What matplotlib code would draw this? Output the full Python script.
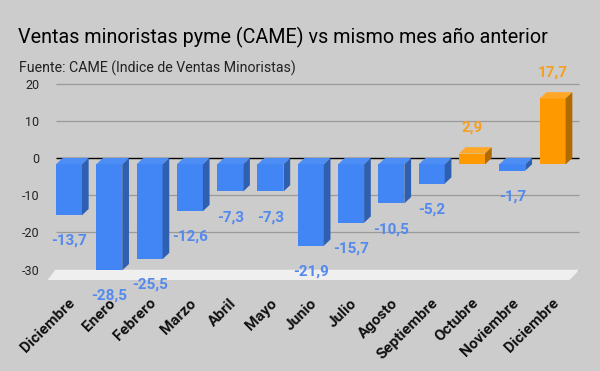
import matplotlib
matplotlib.use("Agg")
import matplotlib.pyplot as plt
from matplotlib.patches import Polygon

# data
months = ["Diciembre", "Enero", "Febrero", "Marzo", "Abril", "Mayo", "Junio",
          "Julio", "Agosto", "Septiembre", "Octubre", "Noviembre", "Diciembre"]
values = [-13.7, -28.5, -25.5, -12.6, -7.3, -7.3, -21.9,
          -15.7, -10.5, -5.2, 2.9, -1.7, 17.7]
yticks = [-30, -20, -10, 0, 10, 20]

BG = "#cccccc"
BLUE = ("#4285f4", "#4d8ef6", "#2f5fb0")      # front, top, side
ORANGE = ("#ff9900", "#ffa726", "#b06a00")
BLUE_LBL = "#5489ee"
ORANGE_LBL = "#f5a020"

plt.rcParams["font.family"] = ["Roboto", "DejaVu Sans"]

fig = plt.figure(figsize=(6, 3.71), dpi=100, facecolor=BG)
ax = fig.add_axes([46.8 / 600, 1 - 325.4 / 371, 540.1 / 600, 279.0 / 371])
ax.set_facecolor(BG)
ax.set_xlim(-0.55, 12.85)
ax.set_ylim(-45, 30)
for s in ax.spines.values():
    s.set_visible(False)

dx, dy = 0.166, 1.7   # depth offset of the 3d look (category units, value units)
w = 0.645

# back wall grid + floor
ax.hlines([t for t in yticks if t != 0], -0.5 + dx, 12.5 + dx,
          color="#9a9a9a", lw=0.9, zorder=1)
ax.hlines(0, -0.5 + dx, 12.5 + dx, color="black", lw=1.0, zorder=1)
floor = Polygon([(-0.5 + dx, -30), (12.5 + dx, -30), (12.5 - 0.08, -32.8), (-0.5 - 0.03, -32.8)],
                closed=True, facecolor="#efefef", edgecolor="none", zorder=2)
ax.add_patch(floor)

for i, v in enumerate(values):
    front, top, side = ORANGE if v > 0 else BLUE
    x0, x1 = i - w / 2, i + w / 2
    lo, hi = min(v, 0) - dy, max(v, 0) - dy
    ax.add_patch(Polygon([(x0, lo), (x1, lo), (x1, hi), (x0, hi)],
                         facecolor=front, edgecolor="none", zorder=3))
    ax.add_patch(Polygon([(x0, hi), (x1, hi), (x1 + dx, hi + dy), (x0 + dx, hi + dy)],
                         facecolor=top, edgecolor="none", zorder=3))
    ax.add_patch(Polygon([(x1, lo), (x1 + dx, lo + dy), (x1 + dx, hi + dy), (x1, hi)],
                         facecolor=side, edgecolor="none", zorder=3))
    txt = f"{v:.1f}".replace(".", ",")
    if v > 0:
        ax.annotate(txt, (i, hi), xytext=(0, 18.5), textcoords="offset points",
                    ha="center", va="center", color=ORANGE_LBL, fontsize=11,
                    fontweight="bold", zorder=5)
    else:
        ax.annotate(txt, (i, lo), xytext=(0, -18.5), textcoords="offset points",
                    ha="center", va="center", color=BLUE_LBL, fontsize=11,
                    fontweight="bold", zorder=5)

ax.set_yticks(yticks)
ax.set_yticklabels([str(t) for t in yticks])
ax.tick_params(axis="y", length=0, pad=5.5, labelsize=9, labelcolor="#222222")
ax.set_xticks([])

for i, m in enumerate(months):
    ax.text(i + 0.1, -38.4, m, rotation=45, rotation_mode="anchor",
            ha="right", va="center", fontsize=11, fontweight="bold",
            color="#111111", zorder=4)

fig.text(18 / 600, 1 - 43 / 371, "Ventas minoristas pyme (CAME) vs mismo mes año anterior",
         fontsize=14.2, color="black", va="baseline")
fig.text(19 / 600, 1 - 73 / 371, "Fuente: CAME (Indice de Ventas Minoristas)",
         fontsize=10.2, color="#222222", va="baseline")

fig.savefig("out.png", dpi=100, facecolor=BG)
